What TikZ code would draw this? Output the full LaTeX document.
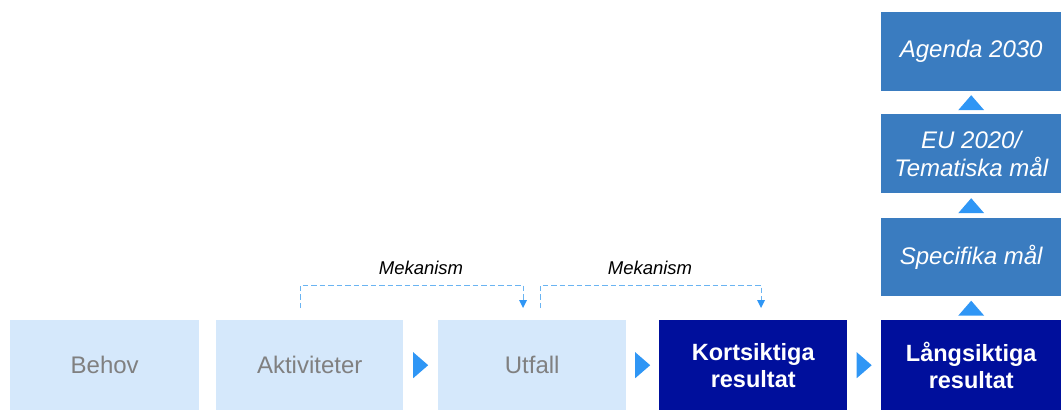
\documentclass[tikz,border=0pt]{standalone}
\usepackage{fontspec}
\setmainfont{Liberation Sans}
\usetikzlibrary{arrows.meta}
\definecolor{lightbox}{HTML}{D5E8FB}
\definecolor{graytxt}{HTML}{808080}
\definecolor{navy}{HTML}{000F9C}
\definecolor{midblue}{HTML}{3A7CC0}
\definecolor{arrblue}{HTML}{2F96F5}
\definecolor{dashblue}{HTML}{6AB4F2}
\tikzset{
  lightnode/.style={fill=lightbox, text=graytxt, font=\fontsize{24}{27}\selectfont, inner sep=0pt, anchor=north west},
  darknode/.style={fill=navy, text=white, font=\fontsize{23.5}{27}\selectfont\bfseries, align=center, inner sep=0pt, anchor=north west},
  goalnode/.style={fill=midblue, text=white, font=\fontsize{24}{28}\selectfont\itshape, align=center, inner sep=0pt, anchor=north west},
  rtri/.style={fill=arrblue, draw=none},
  mech/.style={draw=dashblue, dash pattern=on 5.5pt off 3pt, line width=0.8pt},
  mechlbl/.style={font=\fontsize{18.5}{21}\selectfont\itshape, text=black},
}
\begin{document}
\begin{tikzpicture}[x=1pt,y=-1pt]
\useasboundingbox (0,0) rectangle (1061,410);
% bottom row
\node[lightnode, minimum width=189pt, minimum height=90pt] (behov) at (10,320) {Behov};
\node[lightnode, minimum width=187pt, minimum height=90pt] (akt) at (216,320) {Aktiviteter};
\node[lightnode, minimum width=188pt, minimum height=90pt] (utf) at (438,320) {Utfall};
\node[darknode, minimum width=188pt, minimum height=90pt] (kort) at (659,320) {Kortsiktiga\\resultat};
\node[darknode, minimum width=180pt, minimum height=90pt] (lang) at (881,320) {Långsiktiga\\resultat};
% goals
\node[goalnode, minimum width=180pt, minimum height=78pt] (spec) at (881,218) {Specifika mål};
\node[goalnode, minimum width=180pt, minimum height=79pt] (eu) at (881,114) {EU 2020/\\Tematiska mål};
\node[goalnode, minimum width=180pt, minimum height=79pt] (agenda) at (881,12) {Agenda 2030};
% right-pointing triangles
\foreach \a/\b in {akt/utf, utf/kort, kort/lang}{
  \path (\a.east) -- (\b.west) coordinate[pos=0.5] (m\a);
  \fill[rtri] ([xshift=-7.5pt,yshift=-13pt]m\a) -- ([xshift=7.5pt]m\a) -- ([xshift=-7.5pt,yshift=13pt]m\a) -- cycle;
}
% up triangles
\foreach \a/\b in {lang/spec, spec/eu, eu/agenda}{
  \path (\a.north) -- (\b.south) coordinate[pos=0.5] (u\a);
  \fill[rtri] ([xshift=-13pt,yshift=-7.5pt]u\a) -- ([yshift=7.5pt]u\a) -- ([xshift=13pt,yshift=-7.5pt]u\a) -- cycle;
}
% mechanisms
\coordinate (m1s) at (300,308);
\coordinate (m1e) at (523,308);
\draw[mech] (m1s) -- (300,285) -- (523,285) -- ([yshift=8pt]m1e);
\fill[arrblue] ([xshift=-4pt,yshift=8pt]m1e) -- (m1e) -- ([xshift=4pt,yshift=8pt]m1e) -- cycle;
\node[mechlbl] (mk1) at (421,268) {Mekanism};
\coordinate (m2s) at (540,308);
\coordinate (m2e) at (761,308);
\draw[mech] (m2s) -- (540,285) -- (761,285) -- ([yshift=8pt]m2e);
\fill[arrblue] ([xshift=-4pt,yshift=8pt]m2e) -- (m2e) -- ([xshift=4pt,yshift=8pt]m2e) -- cycle;
\node[mechlbl] (mk2) at (650,268) {Mekanism};
\end{tikzpicture}
\end{document}
